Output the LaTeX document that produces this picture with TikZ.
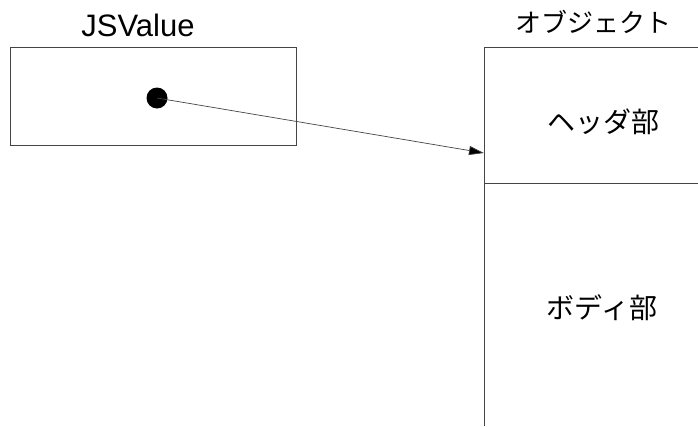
\documentclass[tikz,border=0pt]{standalone}
\usepackage{fontspec}
\setmainfont{Liberation Sans}
\newfontfamily\jpfont{Noto Sans CJK JP}
\usetikzlibrary{arrows.meta}
\definecolor{edge}{HTML}{444444}
\tikzset{
  x=1pt, y=-1pt,
  frame/.style={draw=edge, line width=0.9pt},
  title/.style={font=\fontsize{31}{33}\selectfont, inner sep=0pt},
  jptext/.style={font=\jpfont\fontsize{26}{28}\selectfont, inner sep=0pt},
  partlabel/.style={font=\jpfont\fontsize{28}{30}\selectfont, inner sep=0pt},
  pointer/.style={draw=edge, line width=0.7pt, -{Triangle[length=15pt,width=9pt,fill=black]}},
}
\begin{document}
\begin{tikzpicture}
  \useasboundingbox (0,0) rectangle (698,426);
  % JSValue cell with its pointer dot
  \node[frame, minimum width=286pt, minimum height=98pt, inner sep=0pt] (jsv) at (153,96) {};
  \node[title, anchor=base] (jsvlabel) at (138,36) {JSValue};
  \node[circle, fill=black, minimum size=21pt, inner sep=0pt] (dot) at (157,98) {};
  % object: open-ended box with header and body parts
  \coordinate (objtl) at (484,47);
  \coordinate (objtr) at (698,47);
  \coordinate (objbl) at (484,426);
  \coordinate (sepl) at (484,183);
  \coordinate (sepr) at (698,183);
  \draw[frame] (objtr) -- (objtl) -- (objbl);
  \draw[frame] (sepl) -- (sepr);
  \node[jptext] (objlabel) at (593,22) {オブジェクト};
  \node[partlabel] (header) at (603,122) {ヘッダ部};
  \node[partlabel] (body) at (602,308) {ボディ部};
  % pointer from the value to the object header
  \coordinate (target) at (484,153);
  \draw[pointer] (dot.center) -- (target);
\end{tikzpicture}
\end{document}
